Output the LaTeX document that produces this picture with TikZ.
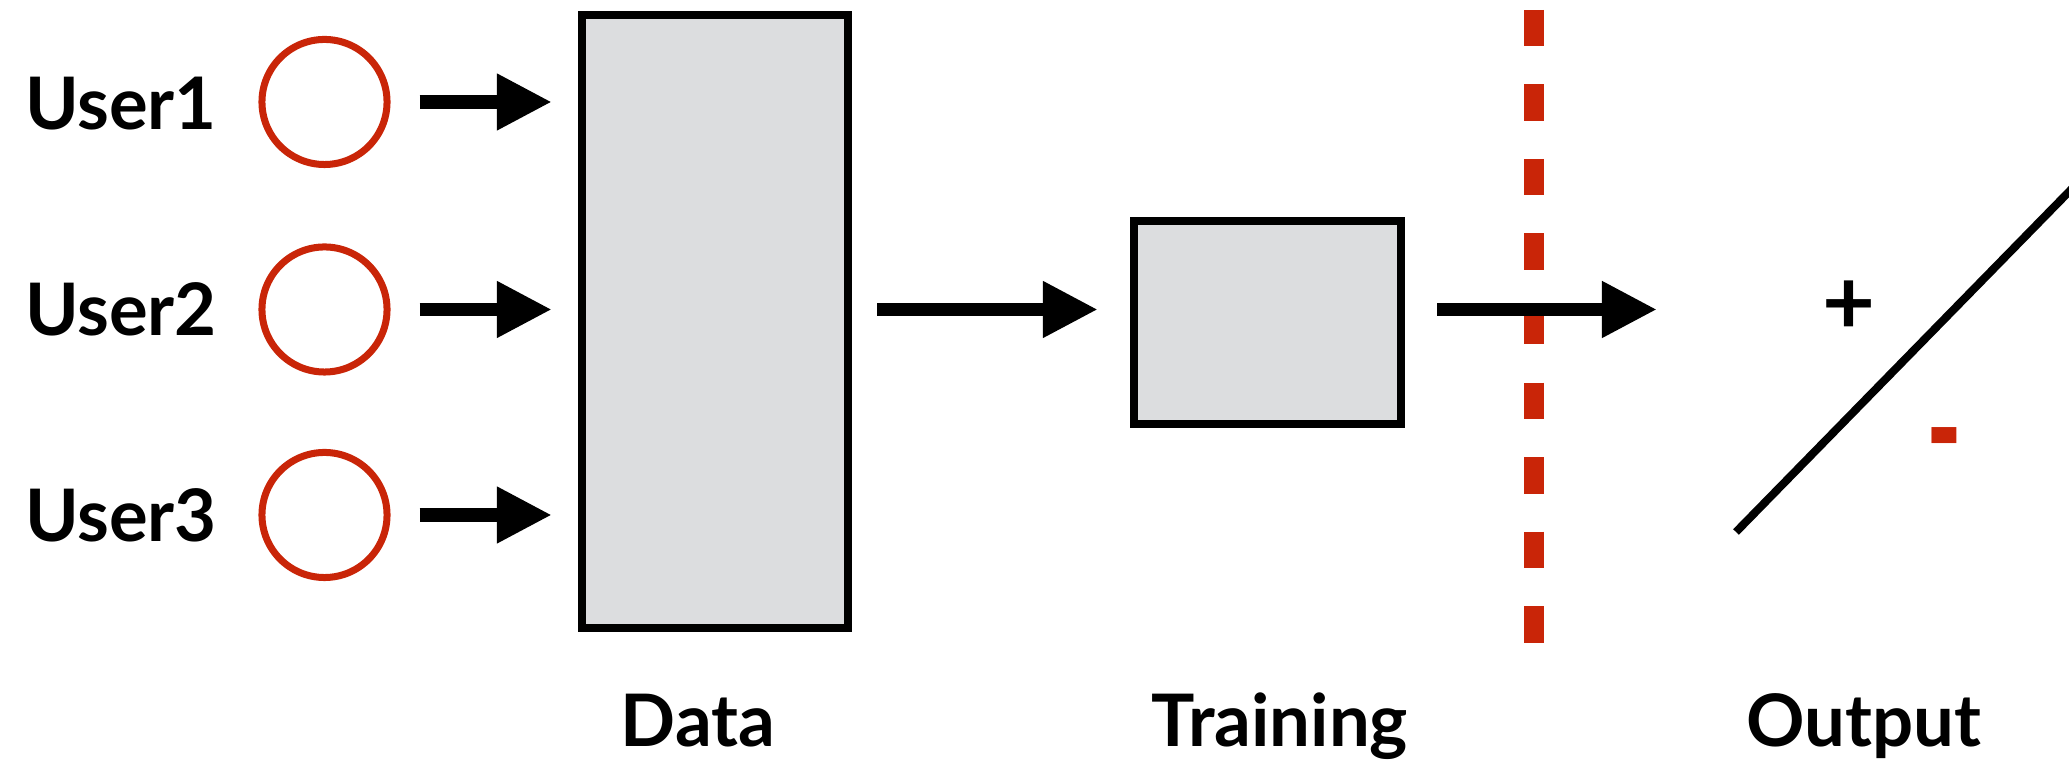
\documentclass[tikz,border=0pt]{standalone}
\usepackage{fontspec}
\setmainfont{Lato}
\usetikzlibrary{arrows.meta}
\definecolor{userred}{RGB}{201,37,8}
\definecolor{boxgray}{RGB}{220,221,223}
\begin{document}
\begin{tikzpicture}[x=0.01cm, y=-0.01cm,
  lbl/.style={font=\fontsize{20.6pt}{24pt}\selectfont\bfseries, inner sep=0pt, outer sep=0pt},
  sign/.style={font=\fontsize{26pt}{30pt}\selectfont\bfseries, inner sep=0pt, outer sep=0pt},
  usercircle/.style={circle, draw=userred, line width=0.07cm, minimum size=1.25cm, inner sep=0pt, outer sep=0pt},
  block/.style={rectangle, draw=black, fill=boxgray, line width=0.075cm, inner sep=0pt, outer sep=0pt},
  flow/.style={line width=0.135cm, -{Triangle[length=0.55cm, width=0.53cm]}},
  boundary/.style={userred, line width=0.195cm, dash pattern=on 0.365cm off 0.38cm},
]
\useasboundingbox (0,0) rectangle (2069,762);

% users
\node[usercircle] (u1) at (324.5,102) {};
\node[usercircle] (u2) at (324.5,309.5) {};
\node[usercircle] (u3) at (324.5,515) {};
\node[lbl, anchor=base west] (t1) at (25,130) {User1};
\node[lbl, anchor=base west] (t2) at (25,336) {User2};
\node[lbl, anchor=base west] (t3) at (25,542) {User3};

% blocks
\node[block, minimum width=2.66cm, minimum height=6.13cm] (data) at (715,321.5) {};
\node[block, minimum width=2.67cm, minimum height=2.03cm] (train) at (1267.5,322.5) {};

% captions
\node[lbl, anchor=base] (cdata) at (698,747) {Data};
\node[lbl, anchor=base] (ctrain) at (1280,747) {Training};
\node[lbl, anchor=base] (cout) at (1864,747) {Output};

% separator
\draw[boundary] (1534,9.8) -- (1534,643);

% flows
\draw[flow, shorten <=0.325cm, shorten >=0.30cm] (u1.east) -- (data.west |- u1);
\draw[flow, shorten <=0.325cm, shorten >=0.30cm] (u2.east) -- (data.west |- u2);
\draw[flow, shorten <=0.325cm, shorten >=0.30cm] (u3.east) -- (data.west |- u3);
\draw[flow, shorten <=0.29cm, shorten >=0.36cm] (data.east |- u2) -- (train.west |- u2);
\coordinate (outtip) at (1657,309.5);
\draw[flow, shorten <=0.36cm] (train.east |- u2) -- (outtip);

% output: decision line with classes
\begin{scope}
\clip (0,0) rectangle (2069,762);
\draw[line width=0.08cm] (1736,532) -- (2100,160);
\end{scope}
\node[sign] (plus) at (1849,308) {+};
\node[sign, text=userred] (minus) at (1944,455) {\scalebox{1.05}[1.7]{-}};
\end{tikzpicture}
\end{document}
